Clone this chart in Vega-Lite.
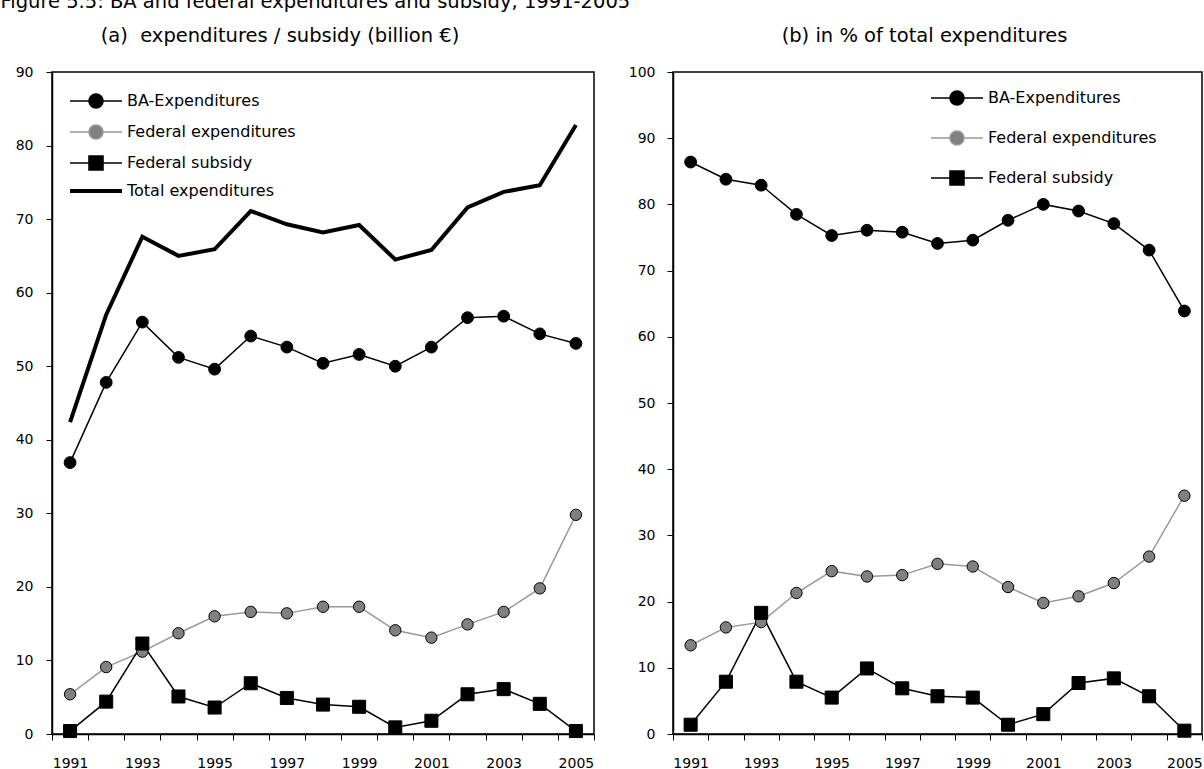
{
  "$schema": "https://vega.github.io/schema/vega-lite/v6.json",
  "background": "white",
  "padding": {"left": 0, "top": -8, "right": 0, "bottom": 0},
  "title": {"text": "Figure 5.5:  BA and federal expenditures and subsidy, 1991-2005", "anchor": "start", "font": "DejaVu Sans", "fontSize": 19.5, "fontWeight": "normal", "color": "black", "dx": -14, "offset": 12},
  "config": {
    "view": {"stroke": "black", "strokeWidth": 1.5},
    "axis": {"labelFont": "DejaVu Sans", "labelFontSize": 14, "labelColor": "black", "domainColor": "black", "domainWidth": 1.5, "tickColor": "black", "tickSize": 6, "tickWidth": 1, "grid": false, "title": null}
  },
  "resolve": {"scale": {"stroke": "independent"}, "legend": {"stroke": "independent"}},
  "spacing": 31,
  "datasets": {
    "abs": [
      {"year": 1991, "series": "BA-Expenditures", "value": 36.9},
      {"year": 1992, "series": "BA-Expenditures", "value": 47.8},
      {"year": 1993, "series": "BA-Expenditures", "value": 56.0},
      {"year": 1994, "series": "BA-Expenditures", "value": 51.2},
      {"year": 1995, "series": "BA-Expenditures", "value": 49.6},
      {"year": 1996, "series": "BA-Expenditures", "value": 54.1},
      {"year": 1997, "series": "BA-Expenditures", "value": 52.6},
      {"year": 1998, "series": "BA-Expenditures", "value": 50.4},
      {"year": 1999, "series": "BA-Expenditures", "value": 51.6},
      {"year": 2000, "series": "BA-Expenditures", "value": 50.0},
      {"year": 2001, "series": "BA-Expenditures", "value": 52.6},
      {"year": 2002, "series": "BA-Expenditures", "value": 56.6},
      {"year": 2003, "series": "BA-Expenditures", "value": 56.8},
      {"year": 2004, "series": "BA-Expenditures", "value": 54.4},
      {"year": 2005, "series": "BA-Expenditures", "value": 53.1},
      {"year": 1991, "series": "Federal expenditures", "value": 5.4},
      {"year": 1992, "series": "Federal expenditures", "value": 9.1},
      {"year": 1993, "series": "Federal expenditures", "value": 11.2},
      {"year": 1994, "series": "Federal expenditures", "value": 13.7},
      {"year": 1995, "series": "Federal expenditures", "value": 16.0},
      {"year": 1996, "series": "Federal expenditures", "value": 16.6},
      {"year": 1997, "series": "Federal expenditures", "value": 16.4},
      {"year": 1998, "series": "Federal expenditures", "value": 17.3},
      {"year": 1999, "series": "Federal expenditures", "value": 17.3},
      {"year": 2000, "series": "Federal expenditures", "value": 14.1},
      {"year": 2001, "series": "Federal expenditures", "value": 13.1},
      {"year": 2002, "series": "Federal expenditures", "value": 14.9},
      {"year": 2003, "series": "Federal expenditures", "value": 16.6},
      {"year": 2004, "series": "Federal expenditures", "value": 19.8},
      {"year": 2005, "series": "Federal expenditures", "value": 29.8},
      {"year": 1991, "series": "Federal subsidy", "value": 0.4},
      {"year": 1992, "series": "Federal subsidy", "value": 4.4},
      {"year": 1993, "series": "Federal subsidy", "value": 12.3},
      {"year": 1994, "series": "Federal subsidy", "value": 5.1},
      {"year": 1995, "series": "Federal subsidy", "value": 3.6},
      {"year": 1996, "series": "Federal subsidy", "value": 6.9},
      {"year": 1997, "series": "Federal subsidy", "value": 4.9},
      {"year": 1998, "series": "Federal subsidy", "value": 4.0},
      {"year": 1999, "series": "Federal subsidy", "value": 3.7},
      {"year": 2000, "series": "Federal subsidy", "value": 0.9},
      {"year": 2001, "series": "Federal subsidy", "value": 1.8},
      {"year": 2002, "series": "Federal subsidy", "value": 5.4},
      {"year": 2003, "series": "Federal subsidy", "value": 6.1},
      {"year": 2004, "series": "Federal subsidy", "value": 4.1},
      {"year": 2005, "series": "Federal subsidy", "value": 0.4},
      {"year": 1991, "series": "Total expenditures", "value": 42.4},
      {"year": 1992, "series": "Total expenditures", "value": 57.0},
      {"year": 1993, "series": "Total expenditures", "value": 67.6},
      {"year": 1994, "series": "Total expenditures", "value": 65.0},
      {"year": 1995, "series": "Total expenditures", "value": 65.9},
      {"year": 1996, "series": "Total expenditures", "value": 71.1},
      {"year": 1997, "series": "Total expenditures", "value": 69.3},
      {"year": 1998, "series": "Total expenditures", "value": 68.2},
      {"year": 1999, "series": "Total expenditures", "value": 69.2},
      {"year": 2000, "series": "Total expenditures", "value": 64.5},
      {"year": 2001, "series": "Total expenditures", "value": 65.8},
      {"year": 2002, "series": "Total expenditures", "value": 71.6},
      {"year": 2003, "series": "Total expenditures", "value": 73.7},
      {"year": 2004, "series": "Total expenditures", "value": 74.6},
      {"year": 2005, "series": "Total expenditures", "value": 82.8}
    ],
    "pct": [
      {"year": 1991, "series": "BA-Expenditures", "value": 86.4},
      {"year": 1992, "series": "BA-Expenditures", "value": 83.8},
      {"year": 1993, "series": "BA-Expenditures", "value": 82.9},
      {"year": 1994, "series": "BA-Expenditures", "value": 78.5},
      {"year": 1995, "series": "BA-Expenditures", "value": 75.3},
      {"year": 1996, "series": "BA-Expenditures", "value": 76.1},
      {"year": 1997, "series": "BA-Expenditures", "value": 75.8},
      {"year": 1998, "series": "BA-Expenditures", "value": 74.1},
      {"year": 1999, "series": "BA-Expenditures", "value": 74.6},
      {"year": 2000, "series": "BA-Expenditures", "value": 77.6},
      {"year": 2001, "series": "BA-Expenditures", "value": 80.0},
      {"year": 2002, "series": "BA-Expenditures", "value": 79.0},
      {"year": 2003, "series": "BA-Expenditures", "value": 77.1},
      {"year": 2004, "series": "BA-Expenditures", "value": 73.1},
      {"year": 2005, "series": "BA-Expenditures", "value": 63.9},
      {"year": 1991, "series": "Federal expenditures", "value": 13.4},
      {"year": 1992, "series": "Federal expenditures", "value": 16.1},
      {"year": 1993, "series": "Federal expenditures", "value": 16.9},
      {"year": 1994, "series": "Federal expenditures", "value": 21.3},
      {"year": 1995, "series": "Federal expenditures", "value": 24.6},
      {"year": 1996, "series": "Federal expenditures", "value": 23.8},
      {"year": 1997, "series": "Federal expenditures", "value": 24.0},
      {"year": 1998, "series": "Federal expenditures", "value": 25.7},
      {"year": 1999, "series": "Federal expenditures", "value": 25.3},
      {"year": 2000, "series": "Federal expenditures", "value": 22.2},
      {"year": 2001, "series": "Federal expenditures", "value": 19.8},
      {"year": 2002, "series": "Federal expenditures", "value": 20.8},
      {"year": 2003, "series": "Federal expenditures", "value": 22.8},
      {"year": 2004, "series": "Federal expenditures", "value": 26.8},
      {"year": 2005, "series": "Federal expenditures", "value": 36.0},
      {"year": 1991, "series": "Federal subsidy", "value": 1.4},
      {"year": 1992, "series": "Federal subsidy", "value": 7.9},
      {"year": 1993, "series": "Federal subsidy", "value": 18.3},
      {"year": 1994, "series": "Federal subsidy", "value": 7.9},
      {"year": 1995, "series": "Federal subsidy", "value": 5.5},
      {"year": 1996, "series": "Federal subsidy", "value": 9.9},
      {"year": 1997, "series": "Federal subsidy", "value": 6.9},
      {"year": 1998, "series": "Federal subsidy", "value": 5.7},
      {"year": 1999, "series": "Federal subsidy", "value": 5.5},
      {"year": 2000, "series": "Federal subsidy", "value": 1.4},
      {"year": 2001, "series": "Federal subsidy", "value": 3.0},
      {"year": 2002, "series": "Federal subsidy", "value": 7.7},
      {"year": 2003, "series": "Federal subsidy", "value": 8.4},
      {"year": 2004, "series": "Federal subsidy", "value": 5.7},
      {"year": 2005, "series": "Federal subsidy", "value": 0.5}
    ]
  },
  "hconcat": [
    {
      "width": 542,
      "height": 662,
      "title": {"text": "(a)\u00a0 expenditures / subsidy (billion €)", "font": "DejaVu Sans", "fontSize": 19.5, "fontWeight": "normal", "color": "black", "dx": -43, "offset": 19},
      "data": {"name": "abs"},
      "layer": [
        {
          "transform": [{"filter": "datum.series !== 'Total expenditures'"}],
          "mark": {"type": "line", "strokeJoin": "miter", "strokeWidth": 1.5},
          "encoding": {
            "x": {"field": "year", "type": "ordinal", "bandPosition": 0.5, "scale": {"type": "band", "paddingInner": 0, "paddingOuter": 0}, "axis": {"tickBand": "extent", "labelExpr": "datum.value % 2 == 1 ? datum.label : ''", "labelAngle": 0, "labelPadding": 16}},
            "y": {"field": "value", "type": "quantitative", "scale": {"domain": [0, 90], "nice": false}, "axis": {"values": [0, 10, 20, 30, 40, 50, 60, 70, 80, 90], "labelPadding": 13}},
            "stroke": {"field": "series", "type": "nominal", "scale": {"domain": ["BA-Expenditures", "Federal expenditures", "Federal subsidy", "Total expenditures"], "range": ["black", "#999999", "black", "black"]},
              "legend": {"title": null, "orient": "none", "legendX": 18, "legendY": 21, "padding": 0, "labelFont": "DejaVu Sans", "labelFontSize": 16, "labelColor": "black", "labelLimit": 400, "rowPadding": 9, "symbolSize": 150, "symbolOffset": 18, "labelOffset": 23,
                "encode": {"symbols": {"update": {
                  "shape": {"signal": "datum.value === 'Total expenditures' ? 'M-1,0H1' : datum.value === 'Federal subsidy' ? 'M-1,0H-0.27M0.27,0H1M-0.27,-0.27H0.27V0.27H-0.27Z' : 'M-1,0H-0.27M0.27,0H1M0.27,0A0.27,0.27,0,1,1,-0.27,0A0.27,0.27,0,1,1,0.27,0'"},
                  "fill": {"signal": "datum.value === 'Federal expenditures' ? '#808080' : datum.value === 'Total expenditures' ? 'transparent' : 'black'"},
                  "stroke": {"signal": "datum.value === 'Federal expenditures' ? '#999999' : 'black'"},
                  "strokeWidth": {"signal": "datum.value === 'Total expenditures' ? 4 : 1.5"},
                  "size": {"value": 2704},
                  "opacity": {"value": 1},
                  "fillOpacity": {"value": 1},
                  "strokeOpacity": {"value": 1}
                }}}}}
          }
        },
        {
          "transform": [{"filter": "datum.series === 'Total expenditures'"}],
          "mark": {"type": "line", "strokeJoin": "miter", "strokeWidth": 4, "stroke": "black"},
          "encoding": {
            "x": {"field": "year", "type": "ordinal", "bandPosition": 0.5},
            "y": {"field": "value", "type": "quantitative"}
          }
        },
        {
          "transform": [{"filter": "datum.series === 'BA-Expenditures'"}],
          "mark": {"type": "point", "shape": "circle", "size": 140, "fill": "black", "fillOpacity": 1, "stroke": "black", "strokeWidth": 1, "opacity": 1},
          "encoding": {
            "x": {"field": "year", "type": "ordinal", "bandPosition": 0.5},
            "y": {"field": "value", "type": "quantitative"}
          }
        },
        {
          "transform": [{"filter": "datum.series === 'Federal expenditures'"}],
          "mark": {"type": "point", "shape": "circle", "size": 130, "fill": "#808080", "fillOpacity": 1, "stroke": "black", "strokeWidth": 1, "opacity": 1},
          "encoding": {
            "x": {"field": "year", "type": "ordinal", "bandPosition": 0.5},
            "y": {"field": "value", "type": "quantitative"}
          }
        },
        {
          "transform": [{"filter": "datum.series === 'Federal subsidy'"}],
          "mark": {"type": "point", "shape": "square", "size": 170, "fill": "black", "fillOpacity": 1, "stroke": "black", "strokeWidth": 1, "opacity": 1},
          "encoding": {
            "x": {"field": "year", "type": "ordinal", "bandPosition": 0.5},
            "y": {"field": "value", "type": "quantitative"}
          }
        }
      ]
    },
    {
      "width": 529,
      "height": 662,
      "title": {"text": "(b) in % of total expenditures", "font": "DejaVu Sans", "fontSize": 19.5, "fontWeight": "normal", "color": "black", "dx": -13, "offset": 19},
      "data": {"name": "pct"},
      "layer": [
        {
          "mark": {"type": "line", "strokeJoin": "miter", "strokeWidth": 1.5},
          "encoding": {
            "x": {"field": "year", "type": "ordinal", "bandPosition": 0.5, "scale": {"type": "band", "paddingInner": 0, "paddingOuter": 0}, "axis": {"tickBand": "extent", "labelExpr": "datum.value % 2 == 1 ? datum.label : ''", "labelAngle": 0, "labelPadding": 16}},
            "y": {"field": "value", "type": "quantitative", "scale": {"domain": [0, 100], "nice": false}, "axis": {"values": [0, 10, 20, 30, 40, 50, 60, 70, 80, 90, 100], "labelPadding": 12}},
            "stroke": {"field": "series", "type": "nominal", "scale": {"domain": ["BA-Expenditures", "Federal expenditures", "Federal subsidy"], "range": ["black", "#999999", "black"]},
              "legend": {"title": null, "orient": "none", "legendX": 258, "legendY": 18, "padding": 0, "labelFont": "DejaVu Sans", "labelFontSize": 16, "labelColor": "black", "labelLimit": 400, "rowPadding": 18, "symbolSize": 150, "symbolOffset": 18, "labelOffset": 23,
                "encode": {"symbols": {"update": {
                  "shape": {"signal": "datum.value === 'Federal subsidy' ? 'M-1,0H-0.27M0.27,0H1M-0.27,-0.27H0.27V0.27H-0.27Z' : 'M-1,0H-0.27M0.27,0H1M0.27,0A0.27,0.27,0,1,1,-0.27,0A0.27,0.27,0,1,1,0.27,0'"},
                  "fill": {"signal": "datum.value === 'Federal expenditures' ? '#808080' : 'black'"},
                  "stroke": {"signal": "datum.value === 'Federal expenditures' ? '#999999' : 'black'"},
                  "strokeWidth": {"signal": "datum.value === 'Total expenditures' ? 4 : 1.5"},
                  "size": {"value": 2704},
                  "opacity": {"value": 1},
                  "fillOpacity": {"value": 1},
                  "strokeOpacity": {"value": 1}
                }}}}}
          }
        },
        {
          "transform": [{"filter": "datum.series === 'BA-Expenditures'"}],
          "mark": {"type": "point", "shape": "circle", "size": 140, "fill": "black", "fillOpacity": 1, "stroke": "black", "strokeWidth": 1, "opacity": 1},
          "encoding": {
            "x": {"field": "year", "type": "ordinal", "bandPosition": 0.5},
            "y": {"field": "value", "type": "quantitative"}
          }
        },
        {
          "transform": [{"filter": "datum.series === 'Federal expenditures'"}],
          "mark": {"type": "point", "shape": "circle", "size": 130, "fill": "#808080", "fillOpacity": 1, "stroke": "black", "strokeWidth": 1, "opacity": 1},
          "encoding": {
            "x": {"field": "year", "type": "ordinal", "bandPosition": 0.5},
            "y": {"field": "value", "type": "quantitative"}
          }
        },
        {
          "transform": [{"filter": "datum.series === 'Federal subsidy'"}],
          "mark": {"type": "point", "shape": "square", "size": 170, "fill": "black", "fillOpacity": 1, "stroke": "black", "strokeWidth": 1, "opacity": 1},
          "encoding": {
            "x": {"field": "year", "type": "ordinal", "bandPosition": 0.5},
            "y": {"field": "value", "type": "quantitative"}
          }
        }
      ]
    }
  ]
}
